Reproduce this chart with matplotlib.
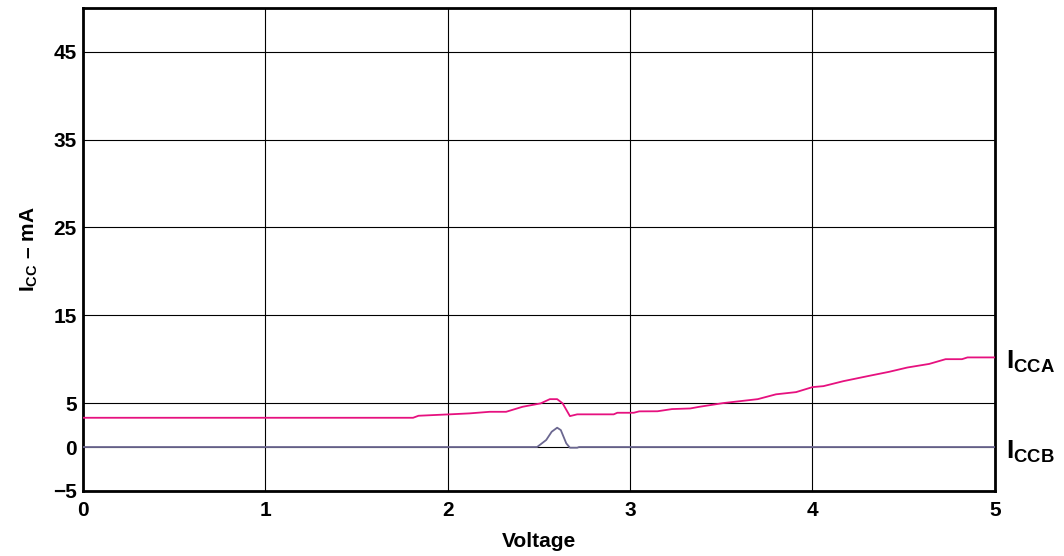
import matplotlib
matplotlib.use('Agg')
import matplotlib.pyplot as plt

plt.rcParams['font.family'] = 'Liberation Sans'
plt.rcParams['font.weight'] = 'bold'
plt.rcParams['mathtext.fontset'] = 'custom'
plt.rcParams['mathtext.rm'] = 'Liberation Sans:bold'
plt.rcParams['mathtext.bf'] = 'Liberation Sans:bold'
plt.rcParams['mathtext.it'] = 'Liberation Sans:bold'

# ICCA curve (mA vs voltage)
icca_v = [0.0, 1.81, 1.84, 2.01, 2.12, 2.23, 2.32, 2.41, 2.51, 2.56, 2.60, 2.63,
          2.67, 2.71, 2.91, 2.93, 3.02, 3.05, 3.15, 3.23, 3.33, 3.38, 3.51, 3.70,
          3.80, 3.91, 4.00, 4.06, 4.17, 4.31, 4.42, 4.52, 4.64, 4.73, 4.82, 4.85, 5.0]
icca_ma = [3.33, 3.33, 3.56, 3.72, 3.83, 4.01, 4.01, 4.58, 4.97, 5.45, 5.45, 4.97,
           3.52, 3.72, 3.72, 3.9, 3.9, 4.06, 4.07, 4.32, 4.39, 4.58, 5.0, 5.45,
           6.0, 6.25, 6.82, 6.93, 7.5, 8.1, 8.56, 9.05, 9.46, 10.0, 10.0, 10.2, 10.2]

# ICCB curve
iccb_v = [0.0, 2.49, 2.54, 2.57, 2.60, 2.62, 2.65, 2.67, 2.71, 2.72, 5.0]
iccb_ma = [0.0, 0.0, 0.8, 1.74, 2.2, 1.93, 0.42, -0.08, -0.08, 0.0, 0.0]

yticks = [-5, 0, 5, 15, 25, 35, 45]
xticks = [0, 1, 2, 3, 4, 5]

fig = plt.figure(figsize=(10.64, 5.56), dpi=100)
ax = fig.add_axes([0.078, 0.117, 0.857, 0.869])

ax.plot(iccb_v, iccb_ma, color='#6b6790', lw=1.3, zorder=3)
ax.plot(icca_v, icca_ma, color='#e6117f', lw=1.3, zorder=3)

ax.set_xlim(0, 5)
ax.set_ylim(-5, 50)
ax.set_xticks(xticks)
ax.set_yticks(yticks)
ax.set_xticklabels([str(t) for t in xticks], fontweight='bold')
ax.set_yticklabels(['\u22125' if t < 0 else str(t) for t in yticks], fontweight='bold')
ax.tick_params(length=0, labelsize=15)
ax.tick_params(axis='x', pad=7)
ax.tick_params(axis='y', pad=4.5)
ax.grid(True, color='black', lw=0.8)
ax.set_axisbelow(True)
for s in ax.spines.values():
    s.set_linewidth(2)

ax.set_xlabel('Voltage', fontsize=15, fontweight='bold', labelpad=9)
ax.set_ylabel('$\\mathrm{I_{CC}}$ \u2013 mA', fontsize=15, fontweight='bold', labelpad=9)

ax.text(1.012, icca_ma[-1] - 0.5, r'$\mathrm{I_{CCA}}$', transform=ax.get_yaxis_transform(),
        fontsize=19, va='center', ha='left')
ax.text(1.012, -0.5, r'$\mathrm{I_{CCB}}$', transform=ax.get_yaxis_transform(),
        fontsize=19, va='center', ha='left')

fig.savefig('out.png', dpi=100)
